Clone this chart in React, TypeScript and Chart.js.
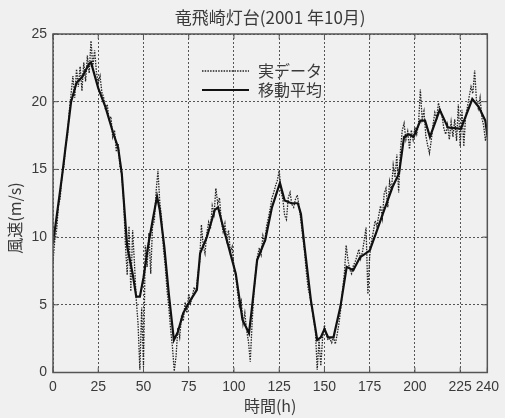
import React, { useEffect, useRef } from "react";
import { Chart, registerables } from "chart.js";

Chart.register(...registerables);

const TITLE = "竜飛崎灯台(2001 年10月)";
const X_LABEL = "時間(h)";
const Y_LABEL = "風速(m/s)";
const SERIES_NAMES = ["実データ", "移動平均"];
const X_TICKS = [0, 25, 50, 75, 100, 125, 150, 175, 200, 225, 240];
const Y_TICKS = [0, 5, 10, 15, 20, 25];

// hourly measured wind speed, hour 0..240
const actualData = [
  8.2, 9.8, 10.5, 12.3, 12.9, 14.6, 15.2, 16.8, 17.5, 19.3,
  20.6, 21.9, 20.3, 22.4, 21.1, 22.6, 20.8, 22.9, 21.5, 23.4,
  22.1, 24.5, 22.6, 23.8, 22.2, 21.4, 21.9, 20.7, 20.3, 19.4,
  19.8, 18.6, 18.9, 17.4, 17.9, 16.3, 16.9, 15.2, 14.6, 12.8,
  9.5, 7.2, 10.8, 6.0, 10.5, 8.1, 5.4, 3.6, 0.2, 4.8,
  0.4, 9.4, 7.8, 10.3, 7.3, 10.8, 11.2, 13.4, 14.9, 12.6,
  11.4, 9.2, 7.9, 6.1, 4.8, 3.2, 1.9, 0.1, 1.2, 3.3,
  2.6, 4.1, 3.8, 5.2, 4.4, 5.8, 5.1, 5.6, 6.3, 5.9,
  7.2, 8.1, 10.9, 9.4, 8.8, 10.3, 11.1, 10.6, 12.3, 11.7,
  13.6, 12.5, 12.9, 11.2, 10.4, 11.0, 9.8, 10.5, 8.9, 9.3,
  7.8, 7.1, 5.9, 4.9, 5.3, 3.6, 4.4, 3.1, 2.3, 0.8,
  3.6, 5.9, 7.4, 8.6, 9.2, 8.7, 10.1, 9.6, 10.8, 11.4,
  12.1, 12.9, 13.3, 13.8, 14.2, 14.9, 13.4, 12.8, 11.6, 11.3,
  12.9, 13.3, 12.4, 12.2, 12.8, 13.1, 12.3, 11.2, 10.1, 8.9,
  7.4, 6.2, 5.6, 4.8, 3.9, 3.1, 0.2, 2.4, 0.5, 2.6,
  3.5, 2.8, 2.4, 2.5, 2.2, 2.6, 2.1, 2.8, 3.6, 4.7,
  6.1, 7.3, 9.4, 8.3, 7.6, 7.3, 7.9, 8.2, 8.6, 9.1,
  8.4, 8.9, 9.8, 10.7, 5.8, 8.6, 9.7, 10.4, 11.2, 10.8,
  11.6, 12.3, 11.4, 13.2, 13.6, 12.2, 14.1, 13.4, 15.3, 14.4,
  16.1, 13.3, 16.4, 17.9, 18.4, 17.2, 17.8, 16.5, 17.9, 17.2,
  18.1, 17.6, 18.4, 20.9, 18.7, 19.3, 17.5, 16.8, 16.2, 17.1,
  18.3, 19.2, 18.8, 19.9, 19.4, 18.9, 18.0, 17.6, 18.3, 17.2,
  18.5, 17.4, 18.7, 17.1, 19.8, 16.7, 19.4, 16.7, 18.9, 19.6,
  20.4, 21.1, 20.6, 22.3, 20.1, 19.5, 20.3, 18.8, 18.2, 17.1,
  18.0,
];

// moving average, read at these hours
const maHours = [
  0, 5, 10, 13, 16, 20, 21, 25, 29, 33, 36, 38, 41, 44, 46, 48, 50, 52.5, 55, 57.5,
  59, 61.5, 64, 66.8, 69, 72, 76, 79.5, 81.3, 85, 89.4, 91.2, 94, 96.6, 101, 104.7,
  108.3, 110, 112.8, 117.3, 121, 125.4, 128, 131.7, 135.3, 137, 139, 142.5, 146, 148,
  150, 152, 155, 158.8, 162.3, 165.9, 169.6, 175, 178.5, 182.2, 187.6, 191.2, 194,
  196.6, 199.3, 203, 205.6, 208.3, 213.7, 218.2, 225.4, 231.7, 235.3, 238.9, 240,
];
const maValues = [
  9.5, 14.5, 20.0, 21.4, 21.8, 22.8, 22.9, 21.0, 19.6, 17.8, 16.6, 14.7, 9.3, 7.3, 5.6, 5.6, 7.0, 9.3, 11.2, 13.0,
  12.0, 9.3, 5.8, 2.4, 3.0, 4.4, 5.35, 6.1, 8.8, 10.0, 12.0, 12.2, 10.75, 9.5, 7.3, 3.9,
  2.9, 4.85, 8.3, 9.8, 12.2, 14.0, 12.7, 12.5, 12.5, 11.7, 9.3, 5.35, 2.4, 2.6,
  3.2, 2.6, 2.6, 4.85, 7.8, 7.55, 8.5, 9.0, 10.3, 11.7, 13.7, 14.7, 17.4,
  17.6, 17.4, 18.6, 18.6, 17.4, 19.4, 18.1, 18.0, 20.2, 19.6, 18.6, 17.5,
];

const W = 505;
const H = 418;
const PLOT_LEFT = 53;
const PLOT_RIGHT = 497;
const PLOT_TOP = 34;
const PLOT_BOTTOM = 372.5;

const BG = "#f0f0f0";
const INK = "#3a3a3a";
const FONT_LATIN = "'Liberation Sans', Arial, sans-serif";
const FONT_CJK = "'Noto Sans CJK JP', 'Liberation Sans', sans-serif";

const decorPlugin = {
  id: "decor",
  beforeDraw(chart: any) {
    const ctx = chart.ctx;
    ctx.save();
    ctx.fillStyle = BG;
    ctx.fillRect(0, 0, chart.width, chart.height);
    ctx.restore();
  },
  afterDraw(chart: any) {
    const ctx = chart.ctx;
    const a = chart.chartArea;
    const xs = chart.scales.x;
    const ys = chart.scales.y;
    ctx.save();
    // axis box
    ctx.strokeStyle = "#555";
    ctx.lineWidth = 1.5;
    ctx.setLineDash([]);
    ctx.strokeRect(a.left, a.top, a.right - a.left, a.bottom - a.top);
    // inward tick marks
    ctx.lineWidth = 1;
    ctx.beginPath();
    const tl = 5;
    xs.ticks.forEach((t: any) => {
      const px = xs.getPixelForValue(t.value);
      ctx.moveTo(px, a.bottom);
      ctx.lineTo(px, a.bottom - tl);
      ctx.moveTo(px, a.top);
      ctx.lineTo(px, a.top + tl);
    });
    ys.ticks.forEach((t: any) => {
      const py = ys.getPixelForValue(t.value);
      ctx.moveTo(a.left, py);
      ctx.lineTo(a.left + tl, py);
      ctx.moveTo(a.right, py);
      ctx.lineTo(a.right - tl, py);
    });
    ctx.stroke();

    // title
    ctx.fillStyle = INK;
    ctx.font = `17px ${FONT_CJK}`;
    ctx.textAlign = "center";
    ctx.textBaseline = "middle";
    ctx.fillText(TITLE, (a.left + a.right) / 2, 18);

    // y axis title
    ctx.save();
    ctx.translate(15, 218);
    ctx.rotate(-Math.PI / 2);
    ctx.font = `16px ${FONT_CJK}`;
    ctx.fillText(Y_LABEL, 0, 0);
    ctx.restore();

    // legend inside plot
    const ds = chart.data.datasets;
    const lx0 = 202;
    const lx1 = 249;
    const rows = [71, 90];
    ds.forEach((d: any, i: number) => {
      const y = rows[i];
      ctx.strokeStyle = d.borderColor;
      ctx.lineWidth = d.borderWidth;
      ctx.setLineDash(d.borderDash || []);
      ctx.beginPath();
      ctx.moveTo(lx0, y);
      ctx.lineTo(lx1, y);
      ctx.stroke();
      ctx.setLineDash([]);
      ctx.fillStyle = INK;
      ctx.font = `16px ${FONT_CJK}`;
      ctx.textAlign = "left";
      ctx.textBaseline = "middle";
      ctx.fillText(d.label, 258, y);
    });
    ctx.restore();
  },
};

export default function App() {
  const ref = useRef<HTMLCanvasElement>(null);
  useEffect(() => {
    document.body.style.margin = "0";
    const actualPts = actualData.map((v, i) => ({ x: i, y: v }));
    const maPts = maHours.map((h, i) => ({ x: h, y: maValues[i] }));
    const chart = new Chart(ref.current as HTMLCanvasElement, {
      type: "line",
      data: {
        datasets: [
          {
            label: SERIES_NAMES[0],
            data: actualPts,
            borderColor: "#222",
            borderWidth: 1.3,
            borderDash: [1.5, 1.2],
            pointRadius: 0,
            tension: 0,
            order: 2,
          },
          {
            label: SERIES_NAMES[1],
            data: maPts,
            borderColor: "#111",
            borderWidth: 2.2,
            pointRadius: 0,
            tension: 0,
            order: 1,
          },
        ],
      },
      options: {
        responsive: false,
        animation: false,
        layout: {
          autoPadding: false,
          padding: { left: 0, right: W - PLOT_RIGHT, top: PLOT_TOP, bottom: 0 },
        },
        plugins: {
          legend: { display: false },
          title: { display: false },
          tooltip: { enabled: false },
        },
        scales: {
          x: {
            type: "linear",
            min: 0,
            max: 240,
            afterBuildTicks: (s: any) => {
              s.ticks = X_TICKS.map((v) => ({ value: v }));
            },
            afterFit: (s: any) => {
              s.height = H - PLOT_BOTTOM;
            },
            grid: { color: "#555", lineWidth: 1, drawTicks: false },
            border: { display: false, dash: [2, 2] },
            ticks: {
              autoSkip: false,
              maxRotation: 0,
              padding: 6,
              color: INK,
              font: { family: FONT_LATIN, size: 14 },
              callback: (v: any) => String(v),
            },
            title: {
              display: true,
              text: X_LABEL,
              color: INK,
              font: { family: FONT_CJK, size: 16 },
              padding: { top: 0, bottom: 2 },
            },
          },
          y: {
            type: "linear",
            min: 0,
            max: 25,
            afterBuildTicks: (s: any) => {
              s.ticks = Y_TICKS.map((v) => ({ value: v }));
            },
            afterFit: (s: any) => {
              s.width = PLOT_LEFT;
            },
            grid: { color: "#555", lineWidth: 1, drawTicks: false },
            border: { display: false, dash: [2, 2] },
            ticks: {
              padding: 6,
              color: INK,
              font: { family: FONT_LATIN, size: 14 },
              callback: (v: any) => String(v),
            },
          },
        },
      },
      plugins: [decorPlugin],
    });
    return () => chart.destroy();
  }, []);
  return (
    <div style={{ position: "absolute", left: 0, top: 0, width: W, height: H }}>
      <canvas ref={ref} width={W} height={H} style={{ display: "block" }} />
    </div>
  );
}
